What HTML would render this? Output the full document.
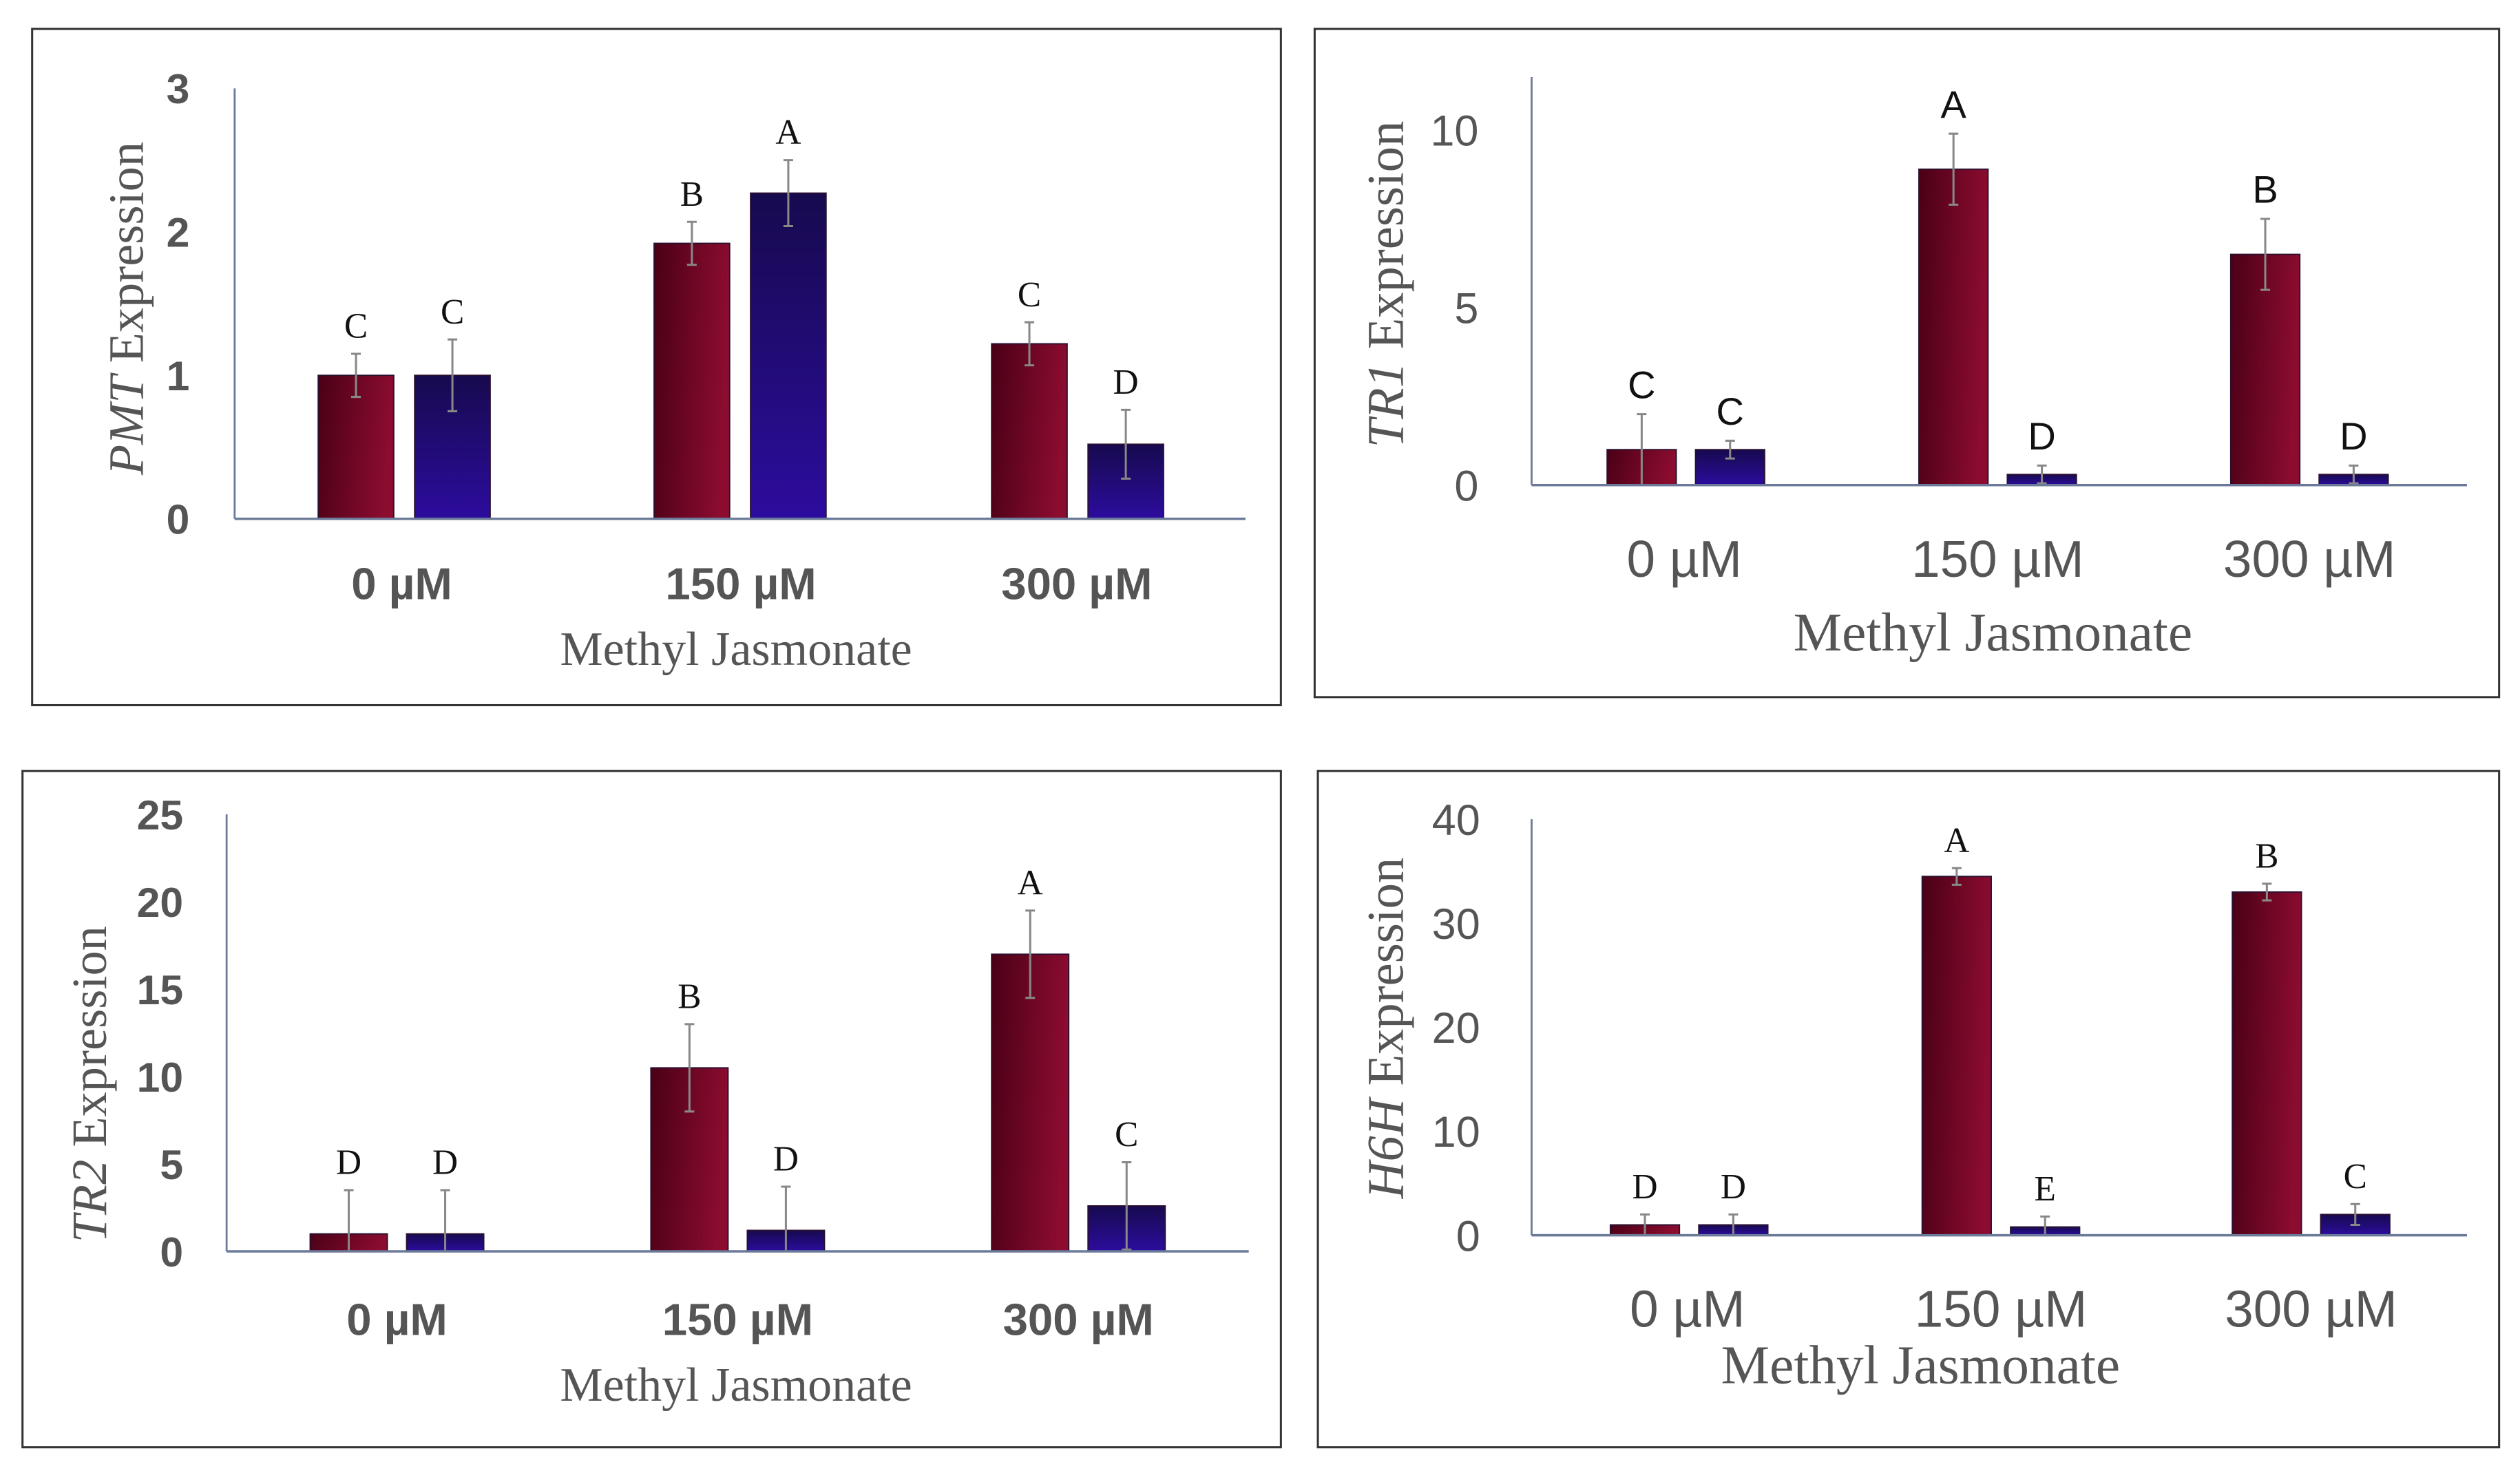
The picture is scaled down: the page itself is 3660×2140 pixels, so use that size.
<!DOCTYPE html>
<html><head><meta charset="utf-8">
<style>
html,body{margin:0;padding:0;background:#fff;}
svg{display:block;}
</style></head>
<body>
<svg id="fig" width="3660" height="2140" viewBox="0 0 1568 917" preserveAspectRatio="none" xmlns="http://www.w3.org/2000/svg">
<defs>
<linearGradient id="gRed" x1="0" y1="0" x2="1" y2="0.15">
<stop offset="0" stop-color="#4a0016"/><stop offset="1" stop-color="#8c0c30"/></linearGradient>
<linearGradient id="gBlue" x1="0" y1="0" x2="0" y2="1">
<stop offset="0" stop-color="#170a4e"/><stop offset="1" stop-color="#2c0c9e"/></linearGradient>
</defs>
</svg>
<script>
const categories = ["0 µM","150 µM","300 µM"];
// PMT
const pmtRed = [1.0, 1.92, 1.22];
const pmtRedErr = [0.15, 0.15, 0.15];
const pmtBlue = [1.0, 2.27, 0.52];
const pmtBlueErr = [0.25, 0.23, 0.24];
const pmtLetters = ["C","C","B","A","C","D"];
const pmtTicks = [0,1,2,3];
// TR1
const tr1Red = [1.0, 8.9, 6.5];
const tr1RedErr = [1.0, 1.0, 1.0];
const tr1Blue = [1.0, 0.3, 0.3];
const tr1BlueErr = [0.25, 0.25, 0.25];
const tr1Letters = ["C","C","A","D","B","D"];
const tr1Ticks = [0,5,10];
// TR2
const tr2Red = [1.0, 10.5, 17.0];
const tr2RedErr = [2.5, 2.5, 2.5];
const tr2Blue = [1.0, 1.2, 2.6];
const tr2BlueErr = [2.5, 2.5, 2.5];
const tr2Letters = ["D","D","B","D","A","C"];
const tr2Ticks = [0,5,10,15,20,25];
// H6H
const h6hRed = [1.0, 34.5, 33.0];
const h6hRedErr = [1.0, 0.8, 0.8];
const h6hBlue = [1.0, 0.8, 2.0];
const h6hBlueErr = [1.0, 1.0, 1.0];
const h6hLetters = ["D","D","A","E","B","C"];
const h6hTicks = [0,10,20,30,40];

const NS = "http://www.w3.org/2000/svg";
const svg = document.getElementById('fig');
function mk(tag, attrs, parent, text){
  const e = document.createElementNS(NS, tag);
  for (const k in attrs) e.setAttribute(k, attrs[k]);
  if (text !== undefined) e.textContent = text;
  (parent||svg).appendChild(e);
  return e;
}

const panels = [
 {id:"pmt", gene:"PMT", red:pmtRed, redErr:pmtRedErr, blue:pmtBlue, blueErr:pmtBlueErr, letters:pmtLetters, ticks:pmtTicks,
  box:[20,18,777,421], ax:146, top:55, base:323, right:775, ymax:3, groupX:[198,407,617], bw:47, gap:60,
  bold:true, tickFs:26, tickX:118, catY:373, catFs:28, catX:[250,461,670], titleY:414, titleX:458, titleFs:30,
  yTitleX:89, yTitleY:192, yTitleFs:31, letterSerif:true, letterFs:22},
 {id:"tr1", gene:"TR1", red:tr1Red, redErr:tr1RedErr, blue:tr1Blue, blueErr:tr1BlueErr, letters:tr1Letters, ticks:tr1Ticks,
  box:[818,18,737,416], ax:953, top:48, base:302, right:1535, ymax:10, groupX:[1000,1194,1388], bw:43, gap:55,
  bold:false, tickFs:27, tickX:920, catY:359, catFs:32, catX:[1048,1243,1437], titleY:405, titleX:1240, titleFs:34,
  yTitleX:873, yTitleY:177, yTitleFs:32, letterSerif:false, letterFs:24, y10:81},
 {id:"tr2", gene:"TR2", red:tr2Red, redErr:tr2RedErr, blue:tr2Blue, blueErr:tr2BlueErr, letters:tr2Letters, ticks:tr2Ticks,
  box:[14,480,783,421], ax:141, top:507, base:779, right:777, ymax:25, groupX:[193,405,617], bw:48, gap:60,
  bold:true, tickFs:26, tickX:114, catY:831, catFs:28, catX:[247,459,671], titleY:872, titleX:458, titleFs:30,
  yTitleX:66, yTitleY:675, yTitleFs:31, letterSerif:true, letterFs:22},
 {id:"h6h", gene:"H6H", red:h6hRed, redErr:h6hRedErr, blue:h6hBlue, blueErr:h6hBlueErr, letters:h6hLetters, ticks:h6hTicks,
  box:[820,480,735,421], ax:953, top:510, base:769, right:1535, ymax:40, groupX:[1002,1196,1389], bw:43, gap:55,
  bold:false, tickFs:27, tickX:921, catY:826, catFs:32, catX:[1050,1245,1438], titleY:861, titleX:1195, titleFs:34,
  yTitleX:873, yTitleY:640, yTitleFs:32, letterSerif:true, letterFs:22}
];

panels.forEach(p => {
  const g = mk('g', {});
  
  
  const b = mk('rect', {x:p.box[0], y:p.box[1], width:p.box[2], height:p.box[3], fill:'#fff', stroke:'#333', 'stroke-width':1.3}, g);
  
  
  const unit = p.y10 ? (p.base - p.y10)/10 : (p.base - p.top)/p.ymax;
  const y = v => p.base - v*unit;
  const ya = mk('line', {x1:p.ax, y1:p.top, x2:p.ax, y2:p.base, stroke:'#6b7a99', 'stroke-width':1.2}, g);
  
  
  p.ticks.forEach(t => {
    const tl = mk('text', {x:p.tickX, y:y(t)+p.tickFs*0.36, 'text-anchor':'end', 'font-size':p.tickFs,
      'font-weight':p.bold?'bold':'normal', fill:'#555', 'font-family':'"Liberation Sans", sans-serif'}, g, String(t));
    
    
  });
  const series = [[p.red, p.redErr, 'url(#gRed)', 'red'], [p.blue, p.blueErr, 'url(#gBlue)', 'blue']];
  categories.forEach((c, i) => {
    series.forEach((s, j) => {
      const x0 = p.groupX[i] + j*p.gap;
      const v = s[0][i], e = s[1][i];
      const r = mk('rect', {x:x0, y:y(v), width:p.bw, height:p.base - y(v), fill:s[2], stroke:'#2a1030', 'stroke-width':0.8}, g);
      
      
      const cx = x0 + p.bw/2;
      const yt = y(v+e), yb = Math.min(p.base, y(v-e));
      const el = mk('path', {d:`M${cx},${yt}V${yb}M${cx-3},${yt}H${cx+3}M${cx-3},${yb}H${cx+3}`, stroke:'#888', 'stroke-width':1.3, fill:'none'}, g);
      
      
      const lt = mk('text', {x:cx, y:yt-10, 'text-anchor':'middle', 'font-size':p.letterFs, fill:'#111',
        'font-family':p.letterSerif?'"Liberation Serif", serif':'"Liberation Sans", sans-serif'}, g, p.letters[i*2+j]);
      
      
    });
    const cl = mk('text', {x:p.catX[i], y:p.catY, 'text-anchor':'middle', 'font-size':p.catFs, 'font-weight':p.bold?'bold':'normal',
      fill:'#555', 'font-family':'"Liberation Sans", sans-serif'}, g, c);
    
    
  });
  const xa = mk('line', {x1:p.ax, y1:p.base, x2:p.right, y2:p.base, stroke:'#6b7a99', 'stroke-width':1.5}, g);
  
  
  const xt = mk('text', {x:p.titleX, y:p.titleY, 'text-anchor':'middle', 'font-size':p.titleFs, fill:'#555',
    'font-family':'"Liberation Serif", serif'}, g, 'Methyl Jasmonate');
  
  
  const yt = mk('text', {x:0, y:0, 'text-anchor':'middle', 'font-size':p.yTitleFs, fill:'#555',
    'font-family':'"Liberation Serif", serif', transform:`translate(${p.yTitleX},${p.yTitleY}) rotate(-90)`}, g);
  
  
  mk('tspan', {'font-style':'italic'}, yt, p.gene);
  mk('tspan', {}, yt, ' Expression');
});
</script>
</body></html>
